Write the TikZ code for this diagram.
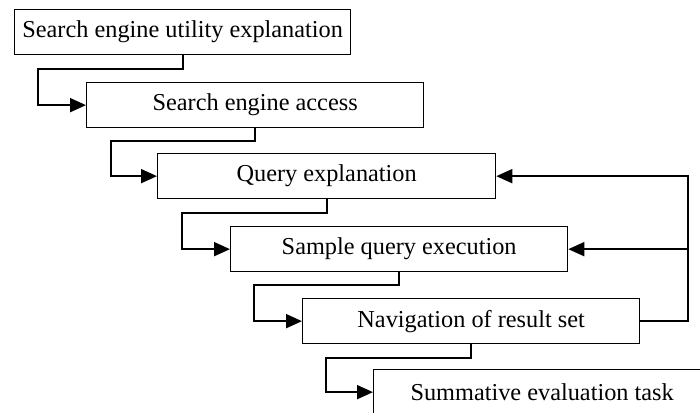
\documentclass[tikz,border=0pt]{standalone}
\usepackage{fontspec}
\setmainfont{Liberation Serif}
\usetikzlibrary{arrows.meta,calc}
\begin{document}
\begin{tikzpicture}[x=1pt,y=-1pt,
  stepbox/.style={draw,line width=1.3pt,anchor=north west,minimum width=337pt,minimum height=45pt,inner sep=0pt,font=\fontsize{24.3}{28}\selectfont},
  conn/.style={line width=1.8pt,-{Triangle[length=16pt,width=14pt]}},
  plain/.style={line width=1.8pt}]
\useasboundingbox (0,0) rectangle (700,412);
\clip (0,0) rectangle (700,412);
\fill[white] (0,0) rectangle (700,412);
\node[stepbox,minimum width=336pt] (b1) at (14,9) {Search engine utility explanation};
\node[stepbox] (b2) at (86,82) {Search engine access\hspace{12pt}};
\node[stepbox,minimum width=338pt] (b3) at (157,153) {Query explanation};
\node[stepbox] (b4) at (230,226) {Sample query execution};
\node[stepbox] (b5) at (302,298) {Navigation of result set};
\node[stepbox] (b6) at (373,369) {Summative evaluation task};
\draw[conn] (b1.south) -- ++(0,14) -| ($(b1.west |- b2.west)+(24,0)$) -- (b2.west);
\draw[conn] (b2.south) -- ++(0,13) -| ($(b2.west |- b3.west)+(25,0)$) -- (b3.west);
\draw[conn] (b3.south) -- ++(0,14) -| ($(b3.west |- b4.west)+(25,0)$) -- (b4.west);
\draw[conn] (b4.south) -- ++(0,13) -| ($(b4.west |- b5.west)+(24,0)$) -- (b5.west);
\draw[conn] (b5.south) -- ++(0,14) -| ($(b5.west |- b6.west)+(24,0)$) -- (b6.west);
\coordinate (fb) at ($(b5.east)+(48,0)$);
\draw[conn] (b5.east) -- (fb) |- (b3.east);
\draw[conn] (fb |- b4.east) -- (b4.east);
\end{tikzpicture}
\end{document}
